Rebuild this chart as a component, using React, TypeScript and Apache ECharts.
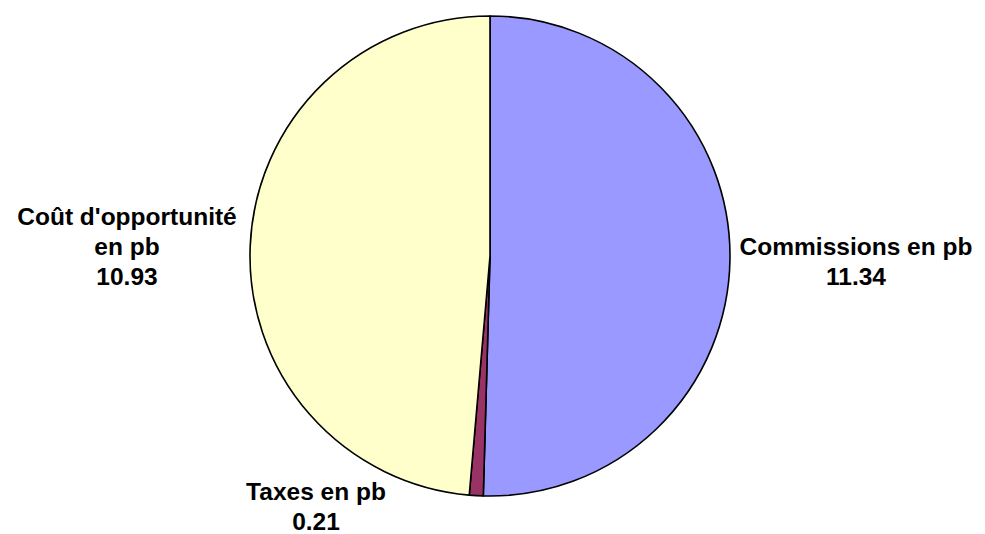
import React, { useEffect, useRef } from "react";
import * as echarts from "echarts";

const categories = ["Commissions en pb", "Taxes en pb", "Coût d'opportunité\nen pb"];
const values = [11.34, 0.21, 10.93];
const colors = ["#9999FF", "#993366", "#FFFFCC"];
const labelPos: [number, number][] = [
  [856, 261],
  [316, 506],
  [127, 246],
];

export default function App() {
  const ref = useRef<HTMLDivElement>(null);
  useEffect(() => {
    const chart = echarts.init(ref.current!, null, { renderer: "svg" });
    chart.setOption({
      animation: false,
      backgroundColor: "#FFFFFF",
      series: [
        {
          type: "pie",
          center: [490, 256],
          radius: [0, 240],
          startAngle: 90,
          clockwise: true,
          avoidLabelOverlap: false,
          itemStyle: { borderColor: "#000000", borderWidth: 1.6 },
          emphasis: { disabled: true },
          label: {
            show: true,
            position: "outside",
            formatter: (p: any) => `${p.name}\n${p.value.toFixed(2)}`,
            fontFamily: "'Liberation Sans', Arial, sans-serif",
            fontWeight: "bold",
            fontSize: 24.5,
            lineHeight: 30,
            color: "#000000",
            align: "center",
          },
          labelLine: { show: false },
          labelLayout: (params: any) => {
            const pos = labelPos[params.dataIndex];
            return { x: pos[0], y: pos[1], align: "center", verticalAlign: "middle" };
          },
          data: categories.map((c, i) => ({
            name: c,
            value: values[i],
            itemStyle: { color: colors[i] },
          })),
        },
      ],
    });
    return () => chart.dispose();
  }, []);
  return (
    <div
      ref={ref}
      style={{ position: "fixed", left: 0, top: 0, width: 985, height: 534 }}
    />
  );
}
